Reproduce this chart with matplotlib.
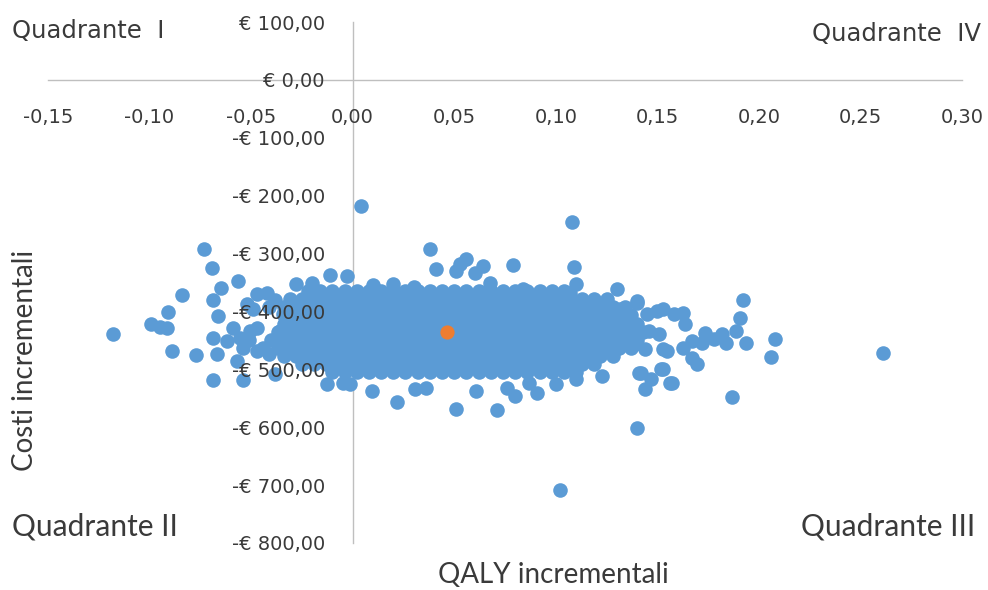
import matplotlib
matplotlib.use("Agg")
import matplotlib.pyplot as plt
import numpy as np

# scattered points around the cloud (QALY incrementali, costi incrementali)
edge_qaly = [
    -0.118, -0.0995, -0.095, -0.0916, -0.091, -0.084, -0.0734, -0.0695, -0.065, -0.0567,
    -0.069, -0.0665, -0.069, -0.089, -0.0773, -0.067, -0.069, -0.054, -0.057, -0.062,
    -0.059, -0.0557, -0.0507, -0.047, -0.054, -0.052, -0.047, -0.042, -0.044, -0.041,
    -0.038, -0.047, -0.036, -0.0325, -0.0345, -0.041, -0.028, -0.049, -0.038, -0.051,
    -0.0113, -0.003, 0.004, 0.038, 0.041, 0.051, 0.056, 0.0527, 0.060, 0.064,
    0.0675, 0.079, 0.108, 0.109, 0.110, 0.107, 0.084, 0.097, 0.130, 0.140,
    0.1256, 0.1315, 0.010, 0.020, 0.030, -0.020,
    -0.0128, -0.005, -0.0015, 0.0094, 0.022, 0.0305, 0.036, 0.051, 0.0606, 0.071,
    0.076, 0.080, 0.087, 0.0906, 0.100, 0.110, 0.123, 0.141, 0.144, 0.152,
    0.156, 0.140, 0.102,
    0.140, 0.145, 0.150, 0.153, 0.158, 0.1626, 0.1635, 0.146, 0.151, 0.139,
    0.144, 0.153, 0.155, 0.1626, 0.167, 0.172, 0.1734, 0.178, 0.182, 0.184,
    0.167, 0.1695, 0.142, 0.147, 0.153, 0.157, 0.192, 0.1906, 0.1887, 0.1936,
    0.208, 0.206, 0.1867, 0.261,
]
edge_cost = [
    -439, -421, -427, -428, -401, -371, -292, -325, -359, -347,
    -380, -408, -446, -468, -475, -473, -518, -518, -485, -451,
    -428, -446, -433, -428, -463, -387, -370, -368, -463, -473,
    -508, -468, -433, -451, -404, -393, -352, -395, -380, -450,
    -337, -338, -218, -292, -326, -330, -309, -318, -333, -321,
    -351, -320, -245, -323, -352, -368, -361, -373, -361, -382,
    -390, -395, -355, -353, -357, -350,
    -525, -523, -525, -537, -556, -534, -532, -568, -537, -570,
    -532, -546, -523, -541, -525, -516, -511, -506, -534, -499,
    -523, -601, -708,
    -385, -404, -399, -395, -404, -402, -421, -433, -439, -456,
    -465, -465, -468, -463, -451, -454, -437, -447, -439, -454,
    -480, -490, -506, -516, -499, -523, -380, -411, -433, -454,
    -447, -478, -547, -471,
]

# dense core of the cloud: QALY values for each cost level
core_cost = [-365, -379, -393, -407, -421, -435, -449, -463, -477, -491, -505]
core_qaly = [
    [-0.022, -0.016, -0.010, -0.004, 0.002, 0.008, 0.014, 0.020, 0.026, 0.032, 0.038, 0.044,
     0.050, 0.056, 0.062, 0.068, 0.074, 0.080, 0.086, 0.092, 0.098, 0.104],
    [-0.031, -0.025, -0.019, -0.013, -0.007, -0.001, 0.005, 0.011, 0.017, 0.023, 0.029, 0.035,
     0.041, 0.047, 0.053, 0.059, 0.065, 0.071, 0.077, 0.083, 0.089, 0.095, 0.101, 0.107, 0.113,
     0.119, 0.125],
    [-0.034, -0.028, -0.022, -0.016, -0.010, -0.004, 0.002, 0.008, 0.014, 0.020, 0.026, 0.032,
     0.038, 0.044, 0.050, 0.056, 0.062, 0.068, 0.074, 0.080, 0.086, 0.092, 0.098, 0.104, 0.110,
     0.116, 0.122, 0.128, 0.134],
    [-0.031, -0.025, -0.019, -0.013, -0.007, -0.001, 0.005, 0.011, 0.017, 0.023, 0.029, 0.035,
     0.041, 0.047, 0.053, 0.059, 0.065, 0.071, 0.077, 0.083, 0.089, 0.095, 0.101, 0.107, 0.113,
     0.119, 0.125, 0.131, 0.137],
    [-0.034, -0.028, -0.022, -0.016, -0.010, -0.004, 0.002, 0.008, 0.014, 0.020, 0.026, 0.032,
     0.038, 0.044, 0.050, 0.056, 0.062, 0.068, 0.074, 0.080, 0.086, 0.092, 0.098, 0.104, 0.110,
     0.116, 0.122, 0.128, 0.134, 0.140],
    [-0.037, -0.031, -0.025, -0.019, -0.013, -0.007, -0.001, 0.005, 0.011, 0.017, 0.023, 0.029,
     0.035, 0.041, 0.047, 0.053, 0.059, 0.065, 0.071, 0.077, 0.083, 0.089, 0.095, 0.101, 0.107,
     0.113, 0.119, 0.125, 0.131, 0.137, 0.143],
    [-0.040, -0.034, -0.028, -0.022, -0.016, -0.010, -0.004, 0.002, 0.008, 0.014, 0.020, 0.026,
     0.032, 0.038, 0.044, 0.050, 0.056, 0.062, 0.068, 0.074, 0.080, 0.086, 0.092, 0.098, 0.104,
     0.110, 0.116, 0.122, 0.128, 0.134, 0.140],
    [-0.037, -0.031, -0.025, -0.019, -0.013, -0.007, -0.001, 0.005, 0.011, 0.017, 0.023, 0.029,
     0.035, 0.041, 0.047, 0.053, 0.059, 0.065, 0.071, 0.077, 0.083, 0.089, 0.095, 0.101, 0.107,
     0.113, 0.119, 0.125, 0.131, 0.137],
    [-0.034, -0.028, -0.022, -0.016, -0.010, -0.004, 0.002, 0.008, 0.014, 0.020, 0.026, 0.032,
     0.038, 0.044, 0.050, 0.056, 0.062, 0.068, 0.074, 0.080, 0.086, 0.092, 0.098, 0.104, 0.110,
     0.116, 0.122, 0.128],
    [-0.025, -0.019, -0.013, -0.007, -0.001, 0.005, 0.011, 0.017, 0.023, 0.029, 0.035, 0.041,
     0.047, 0.053, 0.059, 0.065, 0.071, 0.077, 0.083, 0.089, 0.095, 0.101, 0.107, 0.113, 0.119],
    [-0.010, -0.004, 0.002, 0.008, 0.014, 0.020, 0.026, 0.032, 0.038, 0.044, 0.050, 0.056,
     0.062, 0.068, 0.074, 0.080, 0.086, 0.092, 0.098, 0.104, 0.110],
]

# punto medio
mean_qaly = [0.0463]
mean_cost = [-436]

x_ticks = [-0.15, -0.10, -0.05, 0.0, 0.05, 0.10, 0.15, 0.20, 0.25, 0.30]
x_labels = ["-0,15", "-0,10", "-0,05", "0,00", "0,05", "0,10", "0,15", "0,20", "0,25", "0,30"]
y_ticks = [100, 0, -100, -200, -300, -400, -500, -600, -700, -800]
y_labels = ["€ 100,00", "€ 0,00", "-€ 100,00", "-€ 200,00", "-€ 300,00", "-€ 400,00",
            "-€ 500,00", "-€ 600,00", "-€ 700,00", "-€ 800,00"]

all_x = list(edge_qaly)
all_y = list(edge_cost)
for c, row in zip(core_cost, core_qaly):
    all_x += row
    all_y += [c] * len(row)

W, H = 988, 590
fig = plt.figure(figsize=(W / 100, H / 100), dpi=100)
ax = fig.add_axes([48 / W, 47 / H, 914 / W, 521 / H])

ax.scatter(all_x, all_y, s=110, color="#5B9BD5", linewidths=0, zorder=1)
ax.scatter(mean_qaly, mean_cost, s=105, color="#ED7D31", linewidths=0, zorder=1.2)

ax.set_xlim(-0.15, 0.30)
ax.set_ylim(-800, 100)
for side in ["top", "right"]:
    ax.spines[side].set_visible(False)
for side in ["left", "bottom"]:
    ax.spines[side].set_position(("data", 0))
    ax.spines[side].set_color("#bfbfbf")
    ax.spines[side].set_linewidth(1.0)
    ax.spines[side].set_zorder(0.5)

ax.set_xticks(x_ticks)
ax.set_xticklabels(x_labels)
ax.set_yticks(y_ticks)
ax.set_yticklabels(y_labels)
ax.tick_params(axis="x", length=0, pad=20, labelsize=14, labelcolor="#3a3a3a")
ax.tick_params(axis="y", length=0, pad=20, labelsize=14, labelcolor="#3a3a3a")
ax.patch.set_alpha(0)

# etichette dei quadranti e degli assi
txt = "#3a3a3a"
fig.text(12 / W, 1 - 31 / H, "Quadrante  I", fontsize=17.5, color=txt, ha="left", va="center")
fig.text(981 / W, 1 - 34 / H, "Quadrante  IV", fontsize=17.5, color=txt, ha="right", va="center")
fig.text(12 / W, 1 - 527 / H, "Quadrante II", fontsize=21.5, family="Lato", color=txt,
         ha="left", va="center")
fig.text(975 / W, 1 - 527 / H, "Quadrante III", fontsize=21.5, family="Lato", color=txt,
         ha="right", va="center")
fig.text(553 / W, 1 - 575 / H, "QALY incrementali", fontsize=20, family="Lato", color=txt,
         ha="center", va="center")
fig.text(25 / W, 1 - 360 / H, "Costi incrementali", fontsize=20, family="Lato", color=txt,
         ha="center", va="center", rotation=90)

fig.savefig("out.png", dpi=100)
